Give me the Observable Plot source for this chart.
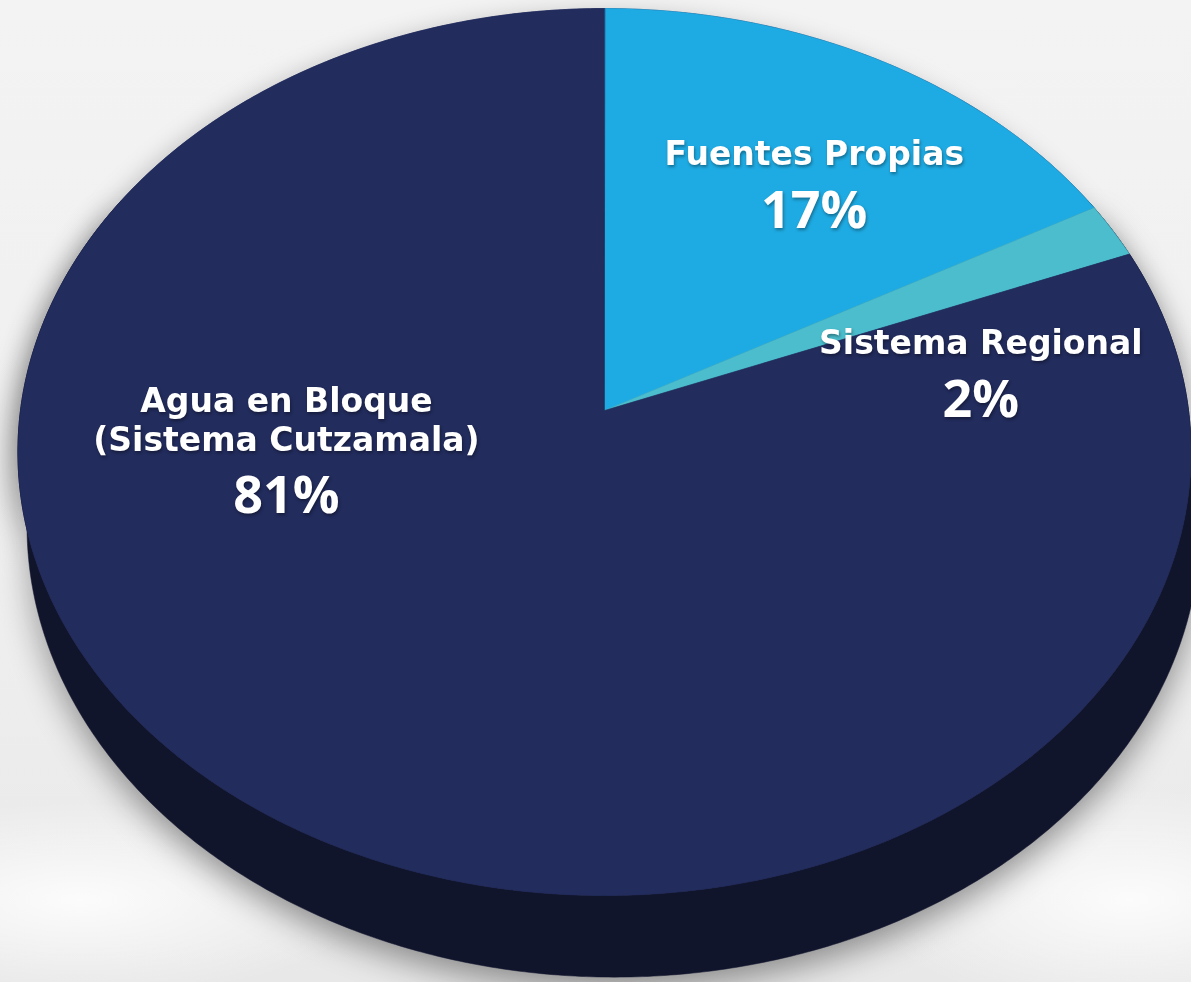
<!DOCTYPE html>
<html>
<head>
<meta charset="utf-8">
<script src="https://cdn.jsdelivr.net/npm/d3@7"></script>
<script src="https://cdn.jsdelivr.net/npm/@observablehq/plot@0.6"></script>
<style>
  html, body { margin: 0; padding: 0; }
  body {
    width: 1191px; height: 982px; overflow: hidden;
    background:
      radial-gradient(ellipse 420px 140px at 80px 900px, rgba(255,255,255,0.85), rgba(255,255,255,0) 70%),
      radial-gradient(ellipse 380px 160px at 1130px 900px, rgba(255,255,255,0.85), rgba(255,255,255,0) 70%),
      linear-gradient(180deg, #f3f3f3 0%, #efefef 60%, #e8e8e8 100%);
  }
</style>
</head>
<body>
<div id="chart"></div>
<script>
// ---- data ----
const categories = ["Fuentes Propias", "Sistema Regional", "Agua en Bloque (Sistema Cutzamala)"];
const labelLines = [["Fuentes Propias"], ["Sistema Regional"], ["Agua en Bloque", "(Sistema Cutzamala)"]];
const shares = [17, 2, 81];
const colors = ["#1eaae2", "#4bbdcc", "#222c5d"];

// ---- layout (perspective of the tilted disc) ----
const W = 1191, H = 982;
const CX = 604, CY = 410;      // projected centre of the disc
const A = 584, B = 439.6;      // horizontal / vertical radii
const K = 0.0936;              // perspective strength
const DEPTH = 74, DEPTH_X = 9; // thickness of the disc (down, slightly right)
const labelAnchor = [[32.3, 0.71], [77.8, 0.668], [270.7, 0.545]]; // [angle°, radius] of first label line
const lineGap = 39, pctGap = 51, pctGapExtra = 38;
const nameSize = 33;

function proj(phiDeg, r, dropY = 0, dropX = 0) {
  const p = phiDeg * Math.PI / 180;
  const u = r * Math.sin(p), v = -r * Math.cos(p);
  const w = 1 - K * v;
  return {x: (u + dropX) / w, y: (v + dropY) / w};
}

// slices
const total = d3.sum(shares);
let acc = 0;
const sliceRows = [];
categories.forEach((c, i) => {
  const a0 = acc / total * 360, a1 = (acc + shares[i]) / total * 360;
  acc += shares[i];
  sliceRows.push({cat: c, ...proj(0, 0)});
  const n = Math.max(2, Math.ceil((a1 - a0) / 0.5));
  for (let j = 0; j <= n; j++) sliceRows.push({cat: c, ...proj(a0 + (a1 - a0) * j / n, 1)});
});

// side wall
const sideRows = [];
for (let a = 60; a <= 300; a += 0.5) sideRows.push(proj(a, 1));
for (let a = 300; a >= 60; a -= 0.5) sideRows.push(proj(a, 1, DEPTH / B, DEPTH_X / A));

// outline of the top face (for soft shadow)
const rimRows = [];
for (let a = 0; a < 360; a += 0.5) rimRows.push(proj(a, 1));

// labels
const names = categories.map((c, i) => {
  const p = proj(labelAnchor[i][0], labelAnchor[i][1]);
  return {cat: c, text: labelLines[i].join("\n"), x: p.x, y: p.y};
});
const percents = categories.map((c, i) => {
  const p = proj(labelAnchor[i][0], labelAnchor[i][1]);
  const off = pctGap + (labelLines[i].length - 1) * pctGapExtra;
  return {cat: c, text: `${shares[i]}%`, x: p.x, y: p.y + off / B};
});

const chart = Plot.plot({
  width: W, height: H, margin: 0,
  x: {domain: [-CX / A, (W - CX) / A], range: [0, W], axis: null},
  y: {domain: [-CY / B, (H - CY) / B], range: [0, H], axis: null},
  color: {domain: categories, range: colors},
  style: {background: "transparent", overflow: "visible"},
  marks: [
    Plot.line(rimRows, {x: "x", y: "y", fill: "#222c5d", stroke: "#222c5d", strokeWidth: 0.5, curve: "linear-closed"}),
    Plot.line(sideRows, {x: "x", y: "y", fill: "#11152c", stroke: "#11152c", strokeWidth: 0.5, curve: "linear-closed"}),
    Plot.line(sliceRows, {x: "x", y: "y", z: "cat", fill: "cat", stroke: "cat", strokeWidth: 0.6, curve: "linear-closed"}),
    Plot.text(names, {x: "x", y: "y", text: "text", fill: "white", fontSize: nameSize, fontWeight: 700,
      fontFamily: "DejaVu Sans", textAnchor: "middle", lineAnchor: "top", lineHeight: lineGap / nameSize, dy: -23}),
    Plot.text(percents, {x: "x", y: "y", text: "text", fill: "white", fontSize: 52, fontWeight: 700,
      fontFamily: "Open Sans", textAnchor: "middle", lineAnchor: "middle"})
  ]
});
document.getElementById("chart").appendChild(chart);

// finishing touches: shadows
const lineGroups = chart.querySelectorAll('g[aria-label="line"]');
lineGroups[0].style.filter = "drop-shadow(-6px 6px 12px rgba(0,0,0,0.24))";
lineGroups[1].style.filter = "drop-shadow(0px 12px 16px rgba(0,0,0,0.4))";
const textGroups = chart.querySelectorAll('g[aria-label="text"]');
textGroups.forEach(g => g.style.filter = "drop-shadow(1px 2px 1.5px rgba(0,0,0,0.35))");
</script>
</body>
</html>
